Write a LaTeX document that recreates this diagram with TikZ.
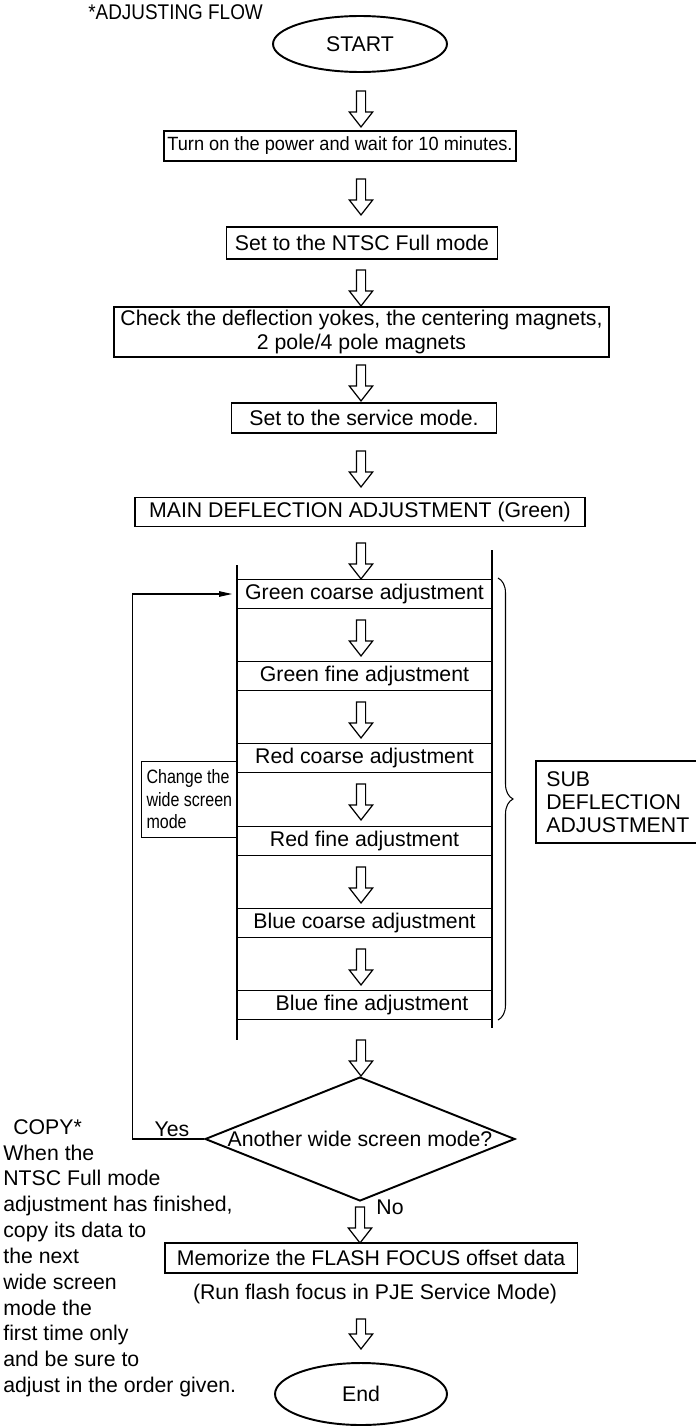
\documentclass[tikz,border=0pt]{standalone}
\usepackage{fontspec}
\setmainfont{Liberation Sans}
\usetikzlibrary{positioning,arrows.meta,shapes.geometric,shapes.arrows,decorations.pathreplacing}
\newcommand{\narrowtext}[2]{\scalebox{#1}[1]{#2}}

\begin{document}
\begin{tikzpicture}[
    x=0.02cm, y=-0.02cm,
    every node/.style={font=\fontsize{12.1}{14}\selectfont},
    box/.style={rectangle,draw,line width=1.1pt,inner sep=2pt,align=center},
    subbox/.style={box,minimum width=5.1cm,minimum height=0.58cm},
    terminal/.style={ellipse,draw,line width=1.1pt,inner sep=0pt},
    harrow/.style={single arrow,draw,line width=0.7pt,fill=white,rotate=-90,
                   minimum height=0.72cm,minimum width=0.44cm,inner sep=0.08cm,
                   single arrow head extend=0.14cm,single arrow tip angle=76},
    thinline/.style={line width=0.6pt}
]
\useasboundingbox (0,0) rectangle (696,1426);

% main column
\node[anchor=west,inner sep=0pt] (title) at (88,12) {\narrowtext{0.89}{*ADJUSTING FLOW}};
\node[terminal,minimum width=3.48cm,minimum height=1.12cm] (start) at (360,44) {START};
\node[harrow] (a1) at (361,106) {};
\node[box,minimum width=6.96cm,minimum height=0.6cm,font=\fontsize{10.9}{13}\selectfont] (power) at (340,146)
    {\narrowtext{0.95}{Turn on the power and wait for 10 minutes.}};
\node[harrow] (a2) at (361,194) {};
\node[box,minimum width=5.42cm,minimum height=0.64cm] (ntsc) at (362,243)
    {Set to the NTSC Full mode};
\node[harrow] (a3) at (361,285) {};
\node[box,minimum width=9.9cm,minimum height=1cm,inner sep=1pt,
      font=\fontsize{12.1}{13.6}\selectfont] (check) at (361.5,332)
    {Check the deflection yokes, the centering magnets,\\2 pole/4 pole magnets};
\node[harrow] (a4) at (361,380) {};
\node[box,minimum width=5.3cm,minimum height=0.6cm] (service) at (364,418)
    {Set to the service mode.};
\node[harrow] (a5) at (361,466) {};
\node[box,minimum width=9.02cm,minimum height=0.58cm] (main) at (360,512)
    {MAIN DEFLECTION ADJUSTMENT (Green)};
\node[harrow] (a6) at (361,558) {};

% sub deflection column
\draw[line width=1.1pt] (237,565) -- (237,1040);
\draw[line width=1.1pt] (492,550) -- (492,1028);
\node[subbox] (gc) at (364.5,594) {Green coarse adjustment};
\node[harrow] (s1) at (361,635) {};
\node[subbox] (gf) at (364.5,676) {Green fine adjustment};
\node[harrow] (s2) at (361,717) {};
\node[subbox] (rc) at (364.5,758) {Red coarse adjustment};
\node[harrow] (s3) at (361,799) {};
\node[subbox] (rf) at (364.5,841) {Red fine adjustment};
\node[harrow] (s4) at (361,882) {};
\node[subbox] (bc) at (364.5,923) {Blue coarse adjustment};
\node[harrow] (s5) at (361,964) {};
\node[subbox] (bf) at (364.5,1005) {\hspace{0.3cm}Blue fine adjustment};
\node[harrow] (a7) at (361,1055) {};

\draw[thinline,decorate,decoration={brace,amplitude=0.3cm}] (498,578) -- (498,1020);
\node[anchor=north west,minimum height=1.62cm,inner xsep=0.2cm,text width=2.84cm,
      align=left,font=\fontsize{12.1}{13}\selectfont] (sub) at (536,761)
    {SUB\\DEFLECTION\\ADJUSTMENT};
\draw[line width=1.1pt] (sub.north east) -- (sub.north west) -- (sub.south west) -- (sub.south east);

% decision and loop back
\node[diamond,draw,line width=1.1pt,inner sep=0pt,minimum width=6.2cm,
      minimum height=2.48cm] (dec) at (360,1139) {};
\node (dectext) at (dec.center) {Another wide screen mode?};
\draw[thinline,-{Triangle[length=0.26cm,width=0.11cm]},shorten >=0.08cm]
    (dec.west) -- ++(-72,0) |- (gc.west);
\node[box,thinline,anchor=north west,align=left,inner sep=0.1cm,
      minimum width=1.9cm,minimum height=1.52cm,
      font=\fontsize{11}{12.8}\selectfont] (change) at (141,761)
    {\narrowtext{0.83}{Change the}\\\narrowtext{0.83}{wide screen}\\\narrowtext{0.83}{mode}};
\node (yes) at (172,1129) {Yes};
\node (no) at (390,1207) {No};

\node[anchor=north west,align=left,inner sep=0pt,
      font=\fontsize{12.1}{14.7}\selectfont] (note) at (3,1119)
    {\hspace{0.2cm}COPY*\\When the\\NTSC Full mode\\adjustment has finished,\\copy its data to\\the next\\wide screen\\mode the\\first time only\\and be sure to\\adjust in the order given.};

% end
\node[harrow] (a8) at (360,1222) {};
\node[box,minimum width=8.26cm,minimum height=0.6cm] (memo) at (371,1258)
    {Memorize the FLASH FOCUS offset data};
\node (run) at (375,1294) {(Run flash focus in PJE Service Mode)};
\node[harrow,minimum height=0.6cm] (a9) at (361,1331) {};
\node[terminal,minimum width=3.44cm,minimum height=1.24cm] (end) at (361,1394) {End};
\end{tikzpicture}
\end{document}
